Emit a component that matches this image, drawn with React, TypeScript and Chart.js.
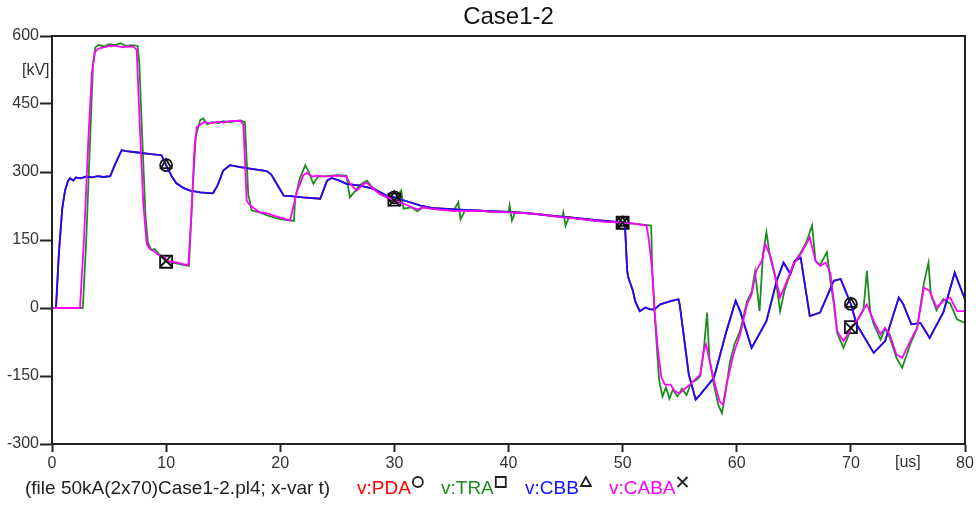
import React, { useEffect, useRef } from "react";
import { Chart, registerables } from "chart.js";

Chart.register(...registerables);

const TITLE = "Case1-2";
const FILE_LABEL = "(file 50kA(2x70)Case1-2.pl4; x-var t)";
const X_UNIT = "[us]";
const Y_UNIT = "[kV]";
const X_MIN = 0, X_MAX = 80, X_STEP = 10;
const Y_MIN = -300, Y_MAX = 600, Y_STEP = 150;
const MARKER_TIMES = [10, 30, 50, 70];

// v:CBB (blue)
const cbbT = [0, 0.35, 0.6, 0.9, 1.14, 1.4, 1.58, 1.87, 2.1, 2.5, 3.0, 3.5, 4.0, 4.5, 5.1, 5.5, 6.1, 6.5, 7.5, 8.5, 9.6, 10, 10.5, 10.9, 11.5, 12.1, 13, 14.1, 14.5, 15.0, 15.6, 16.5, 17.5, 18.8, 19.2, 20.3, 20.9, 22, 23.5, 24.1, 24.5, 25.2, 25.8, 27, 28.2, 29.3, 30, 31, 32.3, 33.5, 35, 36.5, 38, 40, 42, 44, 46, 48, 49.5, 50, 50.2, 50.4, 50.5, 50.9, 51.1, 51.5, 52, 52.4, 52.8, 53.3, 54.2, 54.9, 55.0, 55.8, 56.4, 56.8, 58.0, 59.1, 59.9, 60.3, 61.3, 62.6, 63.5, 64.1, 64.7, 65.1, 65.6, 66.4, 67.3, 68.5, 69.1, 70, 70.5, 72.0, 73.0, 74.2, 74.6, 75.3, 76.1, 76.9, 78.1, 79.1, 80];
const cbbV = [0, 0, 120, 220, 259, 280, 286, 281, 288, 286, 290, 288, 291, 289, 291, 315, 348, 346, 343, 340, 337, 315, 290, 275, 265, 259, 255, 253, 270, 303, 315, 311, 307, 302, 295, 248, 247, 244, 241, 281, 287, 281, 274, 270, 263, 248, 244, 236, 226, 220, 218, 216, 214, 212, 208, 203, 198, 193, 190, 188, 185, 82, 67, 38, 15, -7, 1, -3, -3, 8, 15, 19, 8, -147, -202, -191, -154, -51, 16, -7, -88, -29, 60, 100, 75, 104, 111, -18, -10, 60, 64, 9, -36, -99, -73, 23, 8, -36, -33, -66, -10, 78, 19];

// v:PDA (red) – coincides with v:CBB in the picture
const pdaT = cbbT;
const pdaV = cbbV;

// v:TRA (green)
const traT = [0, 2.7, 3.0, 3.35, 3.6, 3.8, 4.1, 4.6, 5.0, 5.5, 6.0, 6.5, 7.0, 7.5, 7.65, 7.9, 8.2, 8.4, 8.7, 9.0, 9.5, 10, 10.5, 11, 11.5, 12.0, 12.3, 12.6, 13.0, 13.26, 13.6, 14, 14.6, 15, 15.6, 16.5, 16.9, 17.2, 17.5, 18.2, 19, 20, 21.2, 21.3, 21.7, 22.2, 22.5, 22.9, 23.3, 24, 25, 25.8, 26.1, 26.5, 27.0, 27.6, 28.0, 28.7, 29.5, 30, 30.6, 30.8, 31.5, 32, 32.5, 33.5, 35.2, 35.6, 35.8, 36.2, 37.5, 38.5, 40, 40.1, 40.3, 40.6, 42.2, 43.5, 44.7, 44.8, 45.0, 45.3, 47.4, 49, 50, 51, 52.5, 52.6, 52.9, 53.2, 53.5, 53.8, 54.1, 54.4, 54.8, 55.2, 55.6, 56.0, 56.4, 56.8, 57.1, 57.4, 57.6, 58.0, 58.4, 58.7, 59.0, 59.4, 59.8, 60.3, 60.9, 61.3, 61.6, 62.0, 62.3, 62.6, 62.9, 63.4, 63.8, 64.2, 64.6, 65.0, 65.6, 66.1, 66.6, 66.9, 67.3, 67.9, 68.2, 68.5, 68.8, 69.35, 69.8, 70, 70.5, 71.1, 71.4, 71.7, 72.0, 72.6, 73.0, 73.4, 74.0, 74.5, 75.2, 75.8, 76.4, 76.8, 77.0, 77.5, 78.1, 78.7, 79.3, 80];
const traV = [0, 0, 150, 380, 540, 575, 580, 577, 582, 580, 584, 578, 580, 578, 540, 380, 200, 145, 128, 130, 115, 102, 100, 98, 95, 93, 250, 380, 415, 418, 405, 410, 408, 412, 410, 414, 410, 250, 215, 211, 203, 196, 192, 240, 285, 315, 300, 274, 290, 291, 293, 292, 244, 256, 272, 281, 268, 252, 242, 239, 259, 219, 222, 213, 222, 218, 215, 233, 196, 216, 215, 212, 211, 226, 193, 212, 208, 204, 200, 211, 182, 200, 193, 190, 188, 186, 182, 80, -50, -160, -195, -175, -200, -180, -195, -178, -192, -165, -160, -150, -95, -10, -110, -170, -215, -232, -190, -120, -80, -50, 15, 35, 80, -7, 120, 167, 115, 65, -7, 40, 70, 100, 122, 145, 182, 104, 95, 123, 60, 10, -55, -88, -60, -42, -30, -5, 82, -10, -35, -70, -45, -65, -110, -132, -80, -45, 55, 100, 30, -5, 20, 10, -25, -33];

// v:CABA (magenta)
const cabaT = [0, 2.45, 2.8, 3.2, 3.5, 3.77, 4.06, 4.5, 5.0, 5.67, 6.2, 6.7, 7.13, 7.42, 7.71, 8.0, 8.3, 8.6, 8.88, 9.3, 9.9, 10, 10.5, 11, 11.5, 11.95, 12.2, 12.5, 12.7, 13.0, 13.3, 14, 14.5, 15, 15.5, 16.5, 16.77, 17.06, 17.3, 17.64, 18.2, 18.8, 19.5, 20.2, 20.86, 21.44, 22.0, 22.3, 22.8, 23.2, 24, 25, 25.8, 26.1, 26.7, 27.3, 27.6, 28.2, 28.7, 29.5, 30, 30.6, 31.3, 32, 32.5, 33.5, 34.5, 35.2, 35.7, 36.5, 37.5, 38.5, 40.1, 41, 42.2, 43.5, 44.8, 46, 47.4, 48.5, 49.8, 50, 51, 52.1, 52.3, 52.6, 52.8, 53.1, 53.4, 53.7, 54.2, 54.6, 55.0, 55.5, 55.9, 56.5, 56.8, 57.1, 57.3, 57.7, 58.1, 58.5, 58.8, 59.1, 59.7, 60.3, 60.9, 61.3, 61.7, 62.2, 62.5, 63.0, 63.4, 63.8, 64.4, 65.0, 65.6, 66.1, 66.4, 66.9, 67.3, 67.8, 68.2, 68.5, 68.8, 69.35, 69.8, 70, 70.5, 71.1, 71.4, 72.0, 72.6, 73.0, 73.4, 74.0, 74.5, 75.2, 75.8, 76.4, 76.9, 77.5, 78.1, 78.7, 79.3, 80];
const cabaV = [0, 0, 150, 380, 520, 565, 572, 575, 578, 578, 575, 577, 576, 570, 392, 230, 141, 130, 126, 118, 111, 104, 102, 100, 97, 95, 200, 360, 400, 405, 410, 408, 411, 409, 412, 413, 405, 237, 228, 221, 211, 209, 203, 198, 193, 255, 292, 298, 290, 292, 290, 292, 290, 275, 259, 274, 276, 262, 252, 243, 237, 232, 225, 217, 222, 218, 216, 214, 215, 214, 215, 212, 211, 210, 208, 204, 200, 197, 193, 190, 189, 188, 186, 182, 150, 82, -7, -95, -154, -169, -169, -184, -188, -177, -169, -154, -147, -95, -80, -125, -169, -206, -213, -169, -103, -58, 8, 30, 82, 104, 141, 111, 67, 23, 60, 97, 119, 141, 156, 104, 93, 100, 78, 16, -51, -73, -55, -44, -29, -3, 8, -29, -58, -44, -58, -103, -110, -73, -44, 45, 38, 1, 16, 23, -7, -7];

const seriesNames = ["v:PDA", "v:TRA", "v:CBB", "v:CABA"];
const seriesColors = ["#ff0000", "#1e8c1e", "#1010ff", "#ff00ff"];
const seriesMarkers = ["circle", "rect", "triangle", "crossRot"];
const seriesMarkerRadius = [6, 8.5, 6, 8];
const seriesT = [pdaT, traT, cbbT, cabaT];
const seriesV = [pdaV, traV, cbbV, cabaV];
// drawing order: lower value is drawn on top
const seriesOrder = [4, 3, 2, 1];

const FONT = '"Liberation Sans", Arial, sans-serif';

function drawMarker(ctx: CanvasRenderingContext2D, style: string, x: number, y: number, r: number) {
  ctx.beginPath();
  if (style === "circle") {
    ctx.arc(x, y, r, 0, Math.PI * 2);
  } else if (style === "rect") {
    ctx.rect(x - r, y - r, 2 * r, 2 * r);
  } else if (style === "triangle") {
    ctx.moveTo(x, y - r);
    ctx.lineTo(x + r, y + r * 0.8);
    ctx.lineTo(x - r, y + r * 0.8);
    ctx.closePath();
  } else {
    ctx.moveTo(x - r, y - r);
    ctx.lineTo(x + r, y + r);
    ctx.moveTo(x + r, y - r);
    ctx.lineTo(x - r, y + r);
  }
  ctx.stroke();
}

const decorPlugin = {
  id: "decor",
  afterDraw(chart: any) {
    const { ctx, chartArea: a } = chart;
    ctx.save();
    ctx.strokeStyle = "#222";
    ctx.lineWidth = 2;
    ctx.strokeRect(a.left, a.top, a.right - a.left, a.bottom - a.top);

    ctx.fillStyle = "#111";
    ctx.font = `24px ${FONT}`;
    ctx.textAlign = "center";
    ctx.textBaseline = "middle";
    ctx.fillText(TITLE, (a.left + a.right) / 2, 17);

    ctx.font = `16px ${FONT}`;
    ctx.fillStyle = "#333";
    ctx.textAlign = "left";
    ctx.fillText(Y_UNIT, 22, 71);
    ctx.fillText(X_UNIT, 895, 463);

    ctx.font = `19px ${FONT}`;
    ctx.fillStyle = "#222";
    ctx.fillText(FILE_LABEL, 25, 489);
    const starts = [357, 441, 525, 609];
    ctx.lineWidth = 1.8;
    seriesNames.forEach((name, i) => {
      ctx.fillStyle = seriesColors[i];
      ctx.fillText(name, starts[i], 489);
      const w = ctx.measureText(name).width;
      ctx.strokeStyle = "#222";
      drawMarker(ctx, seriesMarkers[i], starts[i] + w + 7, 482, 5);
    });
    ctx.restore();
  },
};

export default function App() {
  const ref = useRef<HTMLCanvasElement | null>(null);

  useEffect(() => {
    if (!ref.current) return;
    const datasets = seriesNames.map((name, i) => ({
      label: name,
      data: seriesT[i].map((t, k) => ({ x: t, y: seriesV[i][k] })),
      borderColor: seriesColors[i],
      backgroundColor: seriesColors[i],
      borderWidth: 1.8,
      tension: 0,
      fill: false,
      order: seriesOrder[i],
      pointStyle: seriesMarkers[i],
      pointRadius: (c: any) => (c.raw && MARKER_TIMES.includes(c.raw.x) ? seriesMarkerRadius[i] : 0),
      pointHoverRadius: 0,
      pointBorderColor: "#111",
      pointBorderWidth: 1.8,
      pointBackgroundColor: "rgba(0,0,0,0)",
    }));

    const chart = new Chart(ref.current, {
      type: "line",
      data: { datasets },
      options: {
        animation: false,
        responsive: false,
        devicePixelRatio: 1,
        layout: { padding: { top: 36, right: 11, left: 0, bottom: 0 } },
        plugins: { legend: { display: false }, title: { display: false }, tooltip: { enabled: false } },
        scales: {
          x: {
            type: "linear",
            min: X_MIN,
            max: X_MAX,
            ticks: { stepSize: X_STEP, color: "#333", font: { family: FONT, size: 16 }, padding: 2, maxRotation: 0, autoSkip: false },
            grid: { drawOnChartArea: false, drawTicks: true, tickLength: 8, color: "#222", tickWidth: 2 },
            border: { display: true, color: "#222", width: 2 },
            afterFit: (s: any) => { s.height = 62; },
          },
          y: {
            type: "linear",
            min: Y_MIN,
            max: Y_MAX,
            ticks: { stepSize: Y_STEP, color: "#333", font: { family: FONT, size: 16 }, padding: 1 },
            grid: { drawOnChartArea: false, drawTicks: true, tickLength: 12, color: "#222", tickWidth: 2 },
            border: { display: true, color: "#222", width: 2 },
            afterFit: (s: any) => { s.width = 52; },
          },
        },
      },
      plugins: [decorPlugin],
    });
    return () => chart.destroy();
  }, []);

  return (
    <div style={{ position: "fixed", left: 0, top: 0, width: 976, height: 506, background: "#fff" }}>
      <canvas ref={ref} width={976} height={506} style={{ width: 976, height: 506, display: "block" }} />
    </div>
  );
}
